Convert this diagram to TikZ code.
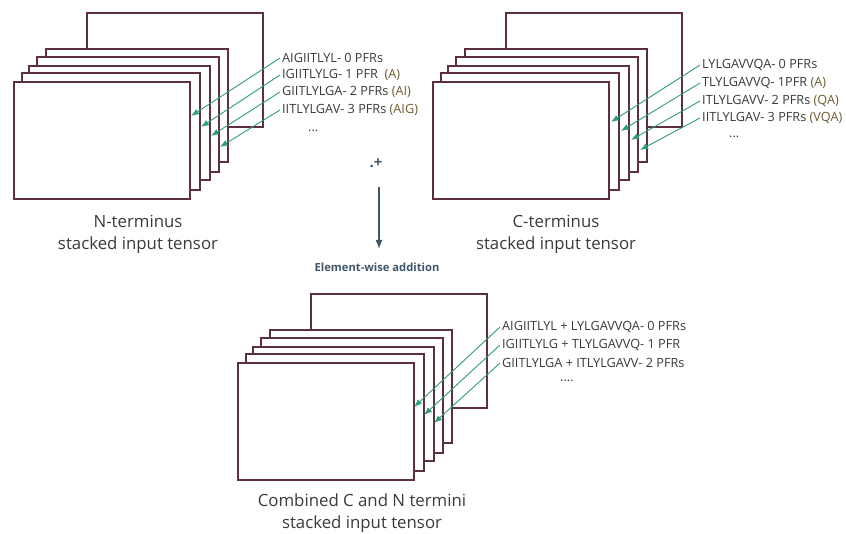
\documentclass[tikz,border=0pt]{standalone}
\usepackage{fontspec}
\setmainfont{Open Sans}
\usetikzlibrary{arrows.meta}
\definecolor{framecol}{HTML}{5E2F42}
\definecolor{txtcol}{HTML}{3A3A3A}
\definecolor{notecol}{HTML}{6E5C2F}
\definecolor{pointcol}{HTML}{2E9C7D}
\definecolor{opcol}{HTML}{40566B}
\begin{document}
\begin{tikzpicture}[x=1pt,y=-1pt,
  frame/.style={draw=framecol, fill=white, line width=1.8pt},
  seqlab/.style={anchor=west, inner sep=2pt, text=txtcol, font=\fontsize{12.7}{15}\selectfont},
  note/.style={text=notecol},
  pointer/.style={draw=pointcol, line width=0.9pt, -{Latex[length=8pt,width=6pt]}},
  caption/.style={align=center, text=txtcol, font=\fontsize{16.8}{22}\selectfont},
  opmark/.style={text=opcol, font=\bfseries\fontsize{15}{17}\selectfont},
  oparrow/.style={draw=opcol, line width=1.3pt, -{Latex[length=9pt,width=7pt]}},
  oplab/.style={text=opcol, font=\bfseries\fontsize{11.2}{13}\selectfont}]
\useasboundingbox (0,0) rectangle (846,534);

% one stack of input frames: back sheet, then four frames, front last
\newcommand{\tensorstack}[1]{%
  \begin{scope}[shift={#1}]
    \path[frame] (87,13) rectangle (263,127);
    \path[frame] (46,49) rectangle (228,162);
    \path[frame] (37,57) rectangle (219,172);
    \path[frame] (29,66) rectangle (210,180);
    \path[frame] (22,73) rectangle (200,190);
    \path[frame] (14,82) rectangle (190,199);
  \end{scope}}

% ---------------- N-terminus ----------------
\tensorstack{(0,0)}
\node[seqlab] (n0) at (280,58) {AIGIITLYL- 0 PFRs};
\node[seqlab] (n1) at (280,75) {IGIITLYLG- 1 PFR\ \ \textcolor{notecol}{(A)}};
\node[seqlab] (n2) at (280,92) {GIITLYLGA- 2 PFRs \textcolor{notecol}{(AI)}};
\node[seqlab] (n3) at (280,110) {IITLYLGAV- 3 PFRs \textcolor{notecol}{(AIG)}};
\node[seqlab] (ndots) at (306,131) {...};
\coordinate (nt0) at (191,116);
\coordinate (nt1) at (201,127);
\coordinate (nt2) at (211,136);
\coordinate (nt3) at (220,147);
\draw[pointer] (n0.west) -- (nt0);
\draw[pointer] (n1.west) -- (nt1);
\draw[pointer] (n2.west) -- (nt2);
\draw[pointer] (n3.west) -- (nt3);
\node[caption] (ncap) at (138,234) {N-terminus\\stacked input tensor};

% ---------------- C-terminus ----------------
\tensorstack{(419,0)}
\node[seqlab] (c0) at (700,65) {LYLGAVVQA- 0 PFRs};
\node[seqlab] (c1) at (700,83) {TLYLGAVVQ- 1PFR \textcolor{notecol}{(A)}};
\node[seqlab] (c2) at (700,101) {ITLYLGAVV- 2 PFRs \textcolor{notecol}{(QA)}};
\node[seqlab] (c3) at (700,118) {IITLYLGAV- 3 PFRs \textcolor{notecol}{(VQA)}};
\node[seqlab] (cdots) at (727,137) {...};
\coordinate (ct0) at (611,122);
\coordinate (ct1) at (621,131);
\coordinate (ct2) at (631,140);
\coordinate (ct3) at (640,150);
\draw[pointer] (c0.west) -- (ct0);
\draw[pointer] (c1.west) -- (ct1);
\draw[pointer] (c2.west) -- (ct2);
\draw[pointer] (c3.west) -- (ct3);
\node[caption] (ccap) at (556,234) {C-terminus\\stacked input tensor};

% ---------------- element-wise addition ----------------
\node[opmark] (plus) at (376,163) {.+};
\coordinate (addtop) at (379,187);
\coordinate (addbot) at (379,249);
\draw[oparrow] (addtop) -- (addbot);
\node[oplab] (addlab) at (377,267) {Element-wise addition};

% ---------------- combined ----------------
\tensorstack{(224,281)}
\node[seqlab] (m0) at (500,327) {AIGIITLYL + LYLGAVVQA- 0 PFRs};
\node[seqlab] (m1) at (500,345) {IGIITLYLG + TLYLGAVVQ- 1 PFR};
\node[seqlab] (m2) at (500,363) {GIITLYLGA + ITLYLGAVV- 2 PFRs};
\node[seqlab] (mdots) at (558,381) {....};
\coordinate (mt0) at (414,407);
\coordinate (mt1) at (424,415);
\coordinate (mt2) at (434,423);
\draw[pointer] (m0.west) -- (mt0);
\draw[pointer] (m1.west) -- (mt1);
\draw[pointer] (m2.west) -- (mt2);
\node[caption] (mcap) at (362,513) {Combined C and N termini\\stacked input tensor};
\end{tikzpicture}
\end{document}
